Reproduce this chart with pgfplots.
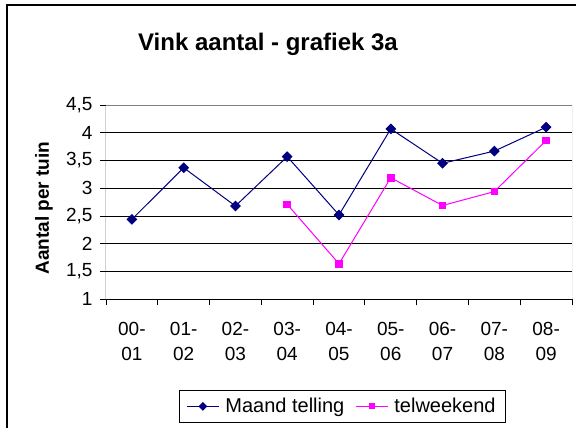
\documentclass[border=0pt]{standalone}
\usepackage{pgfplots}
\pgfplotsset{compat=1.18}
\usepackage{fontspec}
\setmainfont{Liberation Sans}
\definecolor{navyc}{RGB}{0,0,128}
\definecolor{magc}{RGB}{255,0,255}
\begin{document}
\begin{tikzpicture}
\useasboundingbox (0pt,0pt) rectangle (576pt,428pt);
\draw[line width=1.2pt] (7pt,-10pt) -- (7pt,423pt) -- (600pt,423pt);
\node[font=\bfseries\fontsize{24}{28}\selectfont] at (268pt,384pt) {Vink aantal - grafiek 3a};
\node[rotate=90, font=\bfseries\fontsize{19}{22}\selectfont] at (44pt,220pt) {Aantal per tuin};
\begin{axis}[
  at={(106pt,128.7pt)}, anchor=south west,
  width=466pt, height=194.3pt, scale only axis,
  xmin=-0.5, xmax=8.5, ymin=1, ymax=4.5,
  axis line style={draw=none},
  xtick={0,1,2,3,4,5,6,7,8},
  xticklabels={{00-\\01},{01-\\02},{02-\\03},{03-\\04},{04-\\05},{05-\\06},{06-\\07},{07-\\08},{08-\\09}},
  minor xtick={-0.5,0.5,...,8.5},
  ytick={1,1.5,2,2.5,3,3.5,4,4.5},
  xtick pos=bottom, ytick pos=left,
  tick align=outside,
  major tick length=6pt, minor tick length=6pt,
  major x tick style={draw=none},
  minor x tick style={black, line width=0.8pt},
  major y tick style={black, line width=0.8pt},
  ymajorgrids, major grid style={black, line width=0.8pt},
  ticklabel style={font=\fontsize{19}{25.5}\selectfont},
  xticklabel style={align=center, yshift=-13pt},
  yticklabel style={xshift=-4pt},
  /pgf/number format/assume math mode=true,
  /pgf/number format/use comma,
  legend columns=2,
  legend style={at={(0.1567,-0.4668)}, anchor=north west, draw=black, line width=0.8pt,
    font=\fontsize{20}{23}\selectfont, inner xsep=7pt, inner ysep=5pt,
    nodes={inner xsep=3pt, inner ysep=3pt},
    /tikz/every odd column/.append style={column sep=3pt},
    /tikz/every even column/.append style={column sep=8pt}},
  legend image code/.code={\draw[mark repeat=2,mark phase=2,#1] plot coordinates {(0pt,0pt) (16pt,0pt) (32pt,0pt)};},
  legend image post style={mark size=2.6pt},
]
\draw[gray, line width=1pt] (rel axis cs:0,0) rectangle (rel axis cs:1,1);
\draw[black, line width=1pt] (rel axis cs:0,1) -- (rel axis cs:0,0) -- (rel axis cs:1,0);
\addplot[navyc, line width=1pt, mark=square*, mark size=3.3pt, mark options={rotate=45, fill=navyc}] coordinates {
(0,2.44) (1,3.37) (2,2.68) (3,3.57) (4,2.52) (5,4.07) (6,3.45) (7,3.67) (8,4.10)};
\addlegendentry{Maand telling}
\addplot[magc, line width=1pt, mark=square*, mark size=3.3pt, mark options={fill=magc}] coordinates {
(3,2.71) (4,1.64) (5,3.19) (6,2.69) (7,2.94) (8,3.86)};
\addlegendentry{telweekend}
\end{axis}
\end{tikzpicture}
\end{document}
